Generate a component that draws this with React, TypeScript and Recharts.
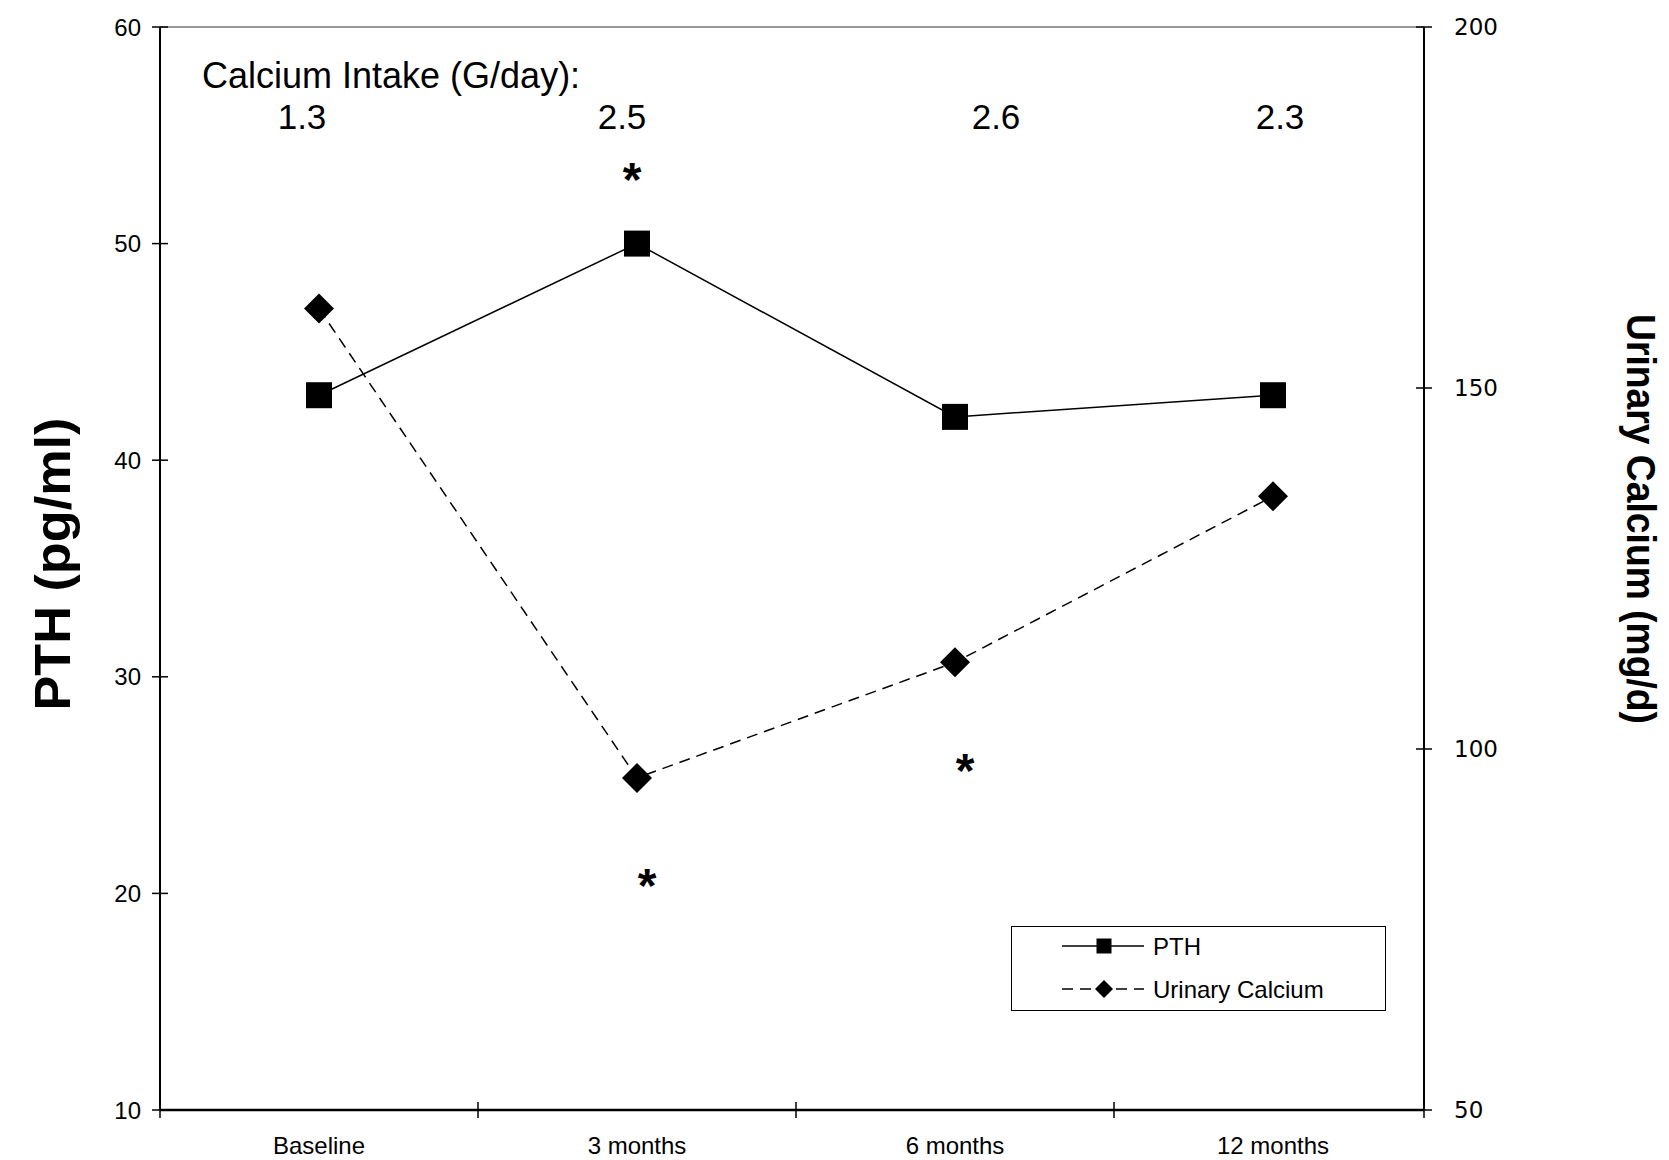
import React from "react";
import {
  LineChart,
  Line,
  XAxis,
  YAxis,
  ReferenceLine,
  ReferenceDot,
  Legend,
} from "recharts";

const categories = ["Baseline", "3 months", "6 months", "12 months"];
const pthValues = [43, 50, 42, 43];
const urinaryCalciumValues = [161, 96, 112, 135];
const calciumIntake = ["1.3", "2.5", "2.6", "2.3"];
const pthTicks = [10, 20, 30, 40, 50, 60];
const urinaryTicks = [50, 100, 150, 200];

const data = categories.map((label, i) => ({
  label,
  pth: pthValues[i],
  uc: urinaryCalciumValues[i],
}));

const FONT = "'Liberation Sans', Arial, sans-serif";
const W = 1669;
const H = 1160;
// category bands are a touch wider than plot/4 in the original
const PAD_LEFT = 159;
const PAD_RIGHT = 151;

// label nudges, kept apart from the values
const intakeDx = [-17, -15, 41, 7];
const stars = [
  { x: "3 months", y: 50, axis: "pth", dx: -5, dy: -74 },
  { x: "3 months", y: 96, axis: "uc", dx: 10, dy: 98 },
  { x: "6 months", y: 112, axis: "uc", dx: 10, dy: 99 },
];

const seriesStyle: Record<string, { dash?: string; marker: "square" | "diamond" }> = {
  pth: { marker: "square" },
  uc: { dash: "11 7", marker: "diamond" },
};

function Square({ cx, cy, size }: { cx: number; cy: number; size: number }) {
  return <rect x={cx - size / 2} y={cy - size / 2} width={size} height={size} fill="#000" />;
}

function Diamond({ cx, cy, size }: { cx: number; cy: number; size: number }) {
  const h = size / 2;
  return (
    <polygon
      points={`${cx},${cy - h} ${cx + h},${cy} ${cx},${cy + h} ${cx - h},${cy}`}
      fill="#000"
    />
  );
}

const LeftTick = (props: any) => {
  const { x, y, payload } = props;
  return (
    <g>
      <line x1={x - 8} x2={x + 8} y1={y} y2={y} stroke="#000" strokeWidth={1.5} />
      <text x={x - 19} y={y} textAnchor="end" dominantBaseline="central" fontSize={24} fontFamily={FONT} fill="#000">
        {payload.value}
      </text>
    </g>
  );
};

const RightTick = (props: any) => {
  const { x, y, payload } = props;
  return (
    <g>
      <line x1={x - 8} x2={x + 8} y1={y} y2={y} stroke="#000" strokeWidth={1.5} />
      <text x={x + 30} y={y} textAnchor="start" dominantBaseline="central" fontSize={23} fontFamily="'DejaVu Sans', sans-serif" fill="#000">
        {payload.value}
      </text>
    </g>
  );
};

const CategoryTick = (props: any) => {
  const { x, y, payload, index } = props;
  return (
    <g>
      <line x1={x - PAD_LEFT} x2={x - PAD_LEFT} y1={y - 8} y2={y + 8} stroke="#000" strokeWidth={1.5} />
      {index === categories.length - 1 && (
        <line x1={x + PAD_RIGHT} x2={x + PAD_RIGHT} y1={y - 8} y2={y + 8} stroke="#000" strokeWidth={1.5} />
      )}
      <text x={x} y={y + 44} textAnchor="middle" fontSize={24} fontFamily={FONT} fill="#000">
        {payload.value}
      </text>
    </g>
  );
};

const LegendBox = (props: any) => {
  const items = (props.payload || []) as Array<{ value: string; dataKey: string }>;
  return (
    <div style={{ width: 375, height: 85, boxSizing: "border-box", border: "1.5px solid #000", background: "#fff" }}>
      <svg width={372} height={82}>
        {items.map((it, i) => {
          const st = seriesStyle[it.dataKey] || { marker: "square" };
          const cy = 19 + i * 43;
          return (
            <g key={it.dataKey}>
              <line x1={50} x2={132} y1={cy} y2={cy} stroke="#000" strokeWidth={1.5} strokeDasharray={st.dash} />
              {st.marker === "square" ? <Square cx={92} cy={cy} size={15} /> : <Diamond cx={92} cy={cy} size={18} />}
              <text x={141} y={cy} dominantBaseline="central" fontSize={24} fontFamily={FONT} fill="#000">
                {it.value}
              </text>
            </g>
          );
        })}
      </svg>
    </div>
  );
};

export default function App() {
  return (
    <div style={{ position: "absolute", left: 0, top: 0, width: W, height: H, background: "#fff" }}>
      <LineChart width={W} height={H} data={data} margin={{ top: 27, right: 0, bottom: 0, left: 0 }}>
        <XAxis
          xAxisId="cat"
          dataKey="label"
          height={50}
          padding={{ left: PAD_LEFT, right: PAD_RIGHT }}
          axisLine={{ stroke: "#000", strokeWidth: 2.5 }}
          tickLine={false}
          tickSize={0}
          tickMargin={0}
          tick={<CategoryTick />}
        />
        <YAxis
          yAxisId="pth"
          domain={[10, 60]}
          ticks={pthTicks}
          width={160}
          axisLine={{ stroke: "#000", strokeWidth: 2 }}
          tickLine={false}
          tickSize={0}
          tickMargin={0}
          tick={<LeftTick />}
          label={{
            content: () => (
              <text
                x={53}
                y={564}
                transform="rotate(-90, 53, 564)"
                textAnchor="middle"
                dominantBaseline="central"
                fontSize={50}
                fontWeight="bold"
                fontFamily={FONT}
                textLength={293}
                lengthAdjust="spacingAndGlyphs"
                fill="#000"
              >
                PTH (pg/ml)
              </text>
            ),
          }}
        />
        <YAxis
          yAxisId="uc"
          orientation="right"
          domain={[50, 200]}
          ticks={urinaryTicks}
          width={245}
          axisLine={{ stroke: "#000", strokeWidth: 2 }}
          tickLine={false}
          tickSize={0}
          tickMargin={0}
          tick={<RightTick />}
          label={{
            content: () => (
              <text
                x={1641}
                y={519}
                transform="rotate(90, 1641, 519)"
                textAnchor="middle"
                dominantBaseline="central"
                fontSize={40}
                fontWeight="bold"
                fontFamily={FONT}
                textLength={410}
                lengthAdjust="spacingAndGlyphs"
                fill="#000"
              >
                Urinary Calcium (mg/d)
              </text>
            ),
          }}
        />
        <ReferenceLine yAxisId="pth" xAxisId="cat" y={60} stroke="#999" strokeWidth={2} />

        <ReferenceDot
          xAxisId="cat"
          yAxisId="pth"
          x="Baseline"
          y={57.2}
          r={1}
          shape={(p: any) => (
            <text x={p.cx - 117} y={p.cy} fontSize={36} fontFamily={FONT} fill="#000">
              Calcium Intake (G/day):
            </text>
          )}
        />
        {categories.map((c, i) => (
          <ReferenceDot
            key={`intake-${c}`}
            xAxisId="cat"
            yAxisId="pth"
            x={c}
            y={55.3}
            r={1}
            shape={(p: any) => (
              <text x={p.cx + intakeDx[i]} y={p.cy} textAnchor="middle" fontSize={35} fontFamily={FONT} fill="#000">
                {calciumIntake[i]}
              </text>
            )}
          />
        ))}
        {stars.map((s, i) => (
          <ReferenceDot
            key={`star-${i}`}
            xAxisId="cat"
            yAxisId={s.axis}
            x={s.x}
            y={s.y}
            r={1}
            shape={(p: any) => (
              <text
                x={p.cx + s.dx}
                y={p.cy + s.dy + 26}
                textAnchor="middle"
                fontSize={48}
                fontWeight="bold"
                fontFamily={FONT}
                fill="#000"
              >
                *
              </text>
            )}
          />
        ))}

        <Line
          xAxisId="cat"
          yAxisId="pth"
          dataKey="pth"
          name="PTH"
          type="linear"
          stroke="#000"
          strokeWidth={1.5}
          isAnimationActive={false}
          dot={(p: any) => <Square key={`sq-${p.index}`} cx={p.cx} cy={p.cy} size={26} />}
          activeDot={false}
        />
        <Line
          xAxisId="cat"
          yAxisId="uc"
          dataKey="uc"
          name="Urinary Calcium"
          type="linear"
          stroke="#000"
          strokeWidth={1.5}
          strokeDasharray="11 7"
          isAnimationActive={false}
          dot={(p: any) => <Diamond key={`dm-${p.index}`} cx={p.cx} cy={p.cy} size={30} />}
          activeDot={false}
        />
        <Legend
          layout="horizontal"
          verticalAlign="middle"
          align="center"
          content={<LegendBox />}
          wrapperStyle={{ left: 1011, top: 926, width: 375, height: 85 }}
        />
      </LineChart>
    </div>
  );
}
